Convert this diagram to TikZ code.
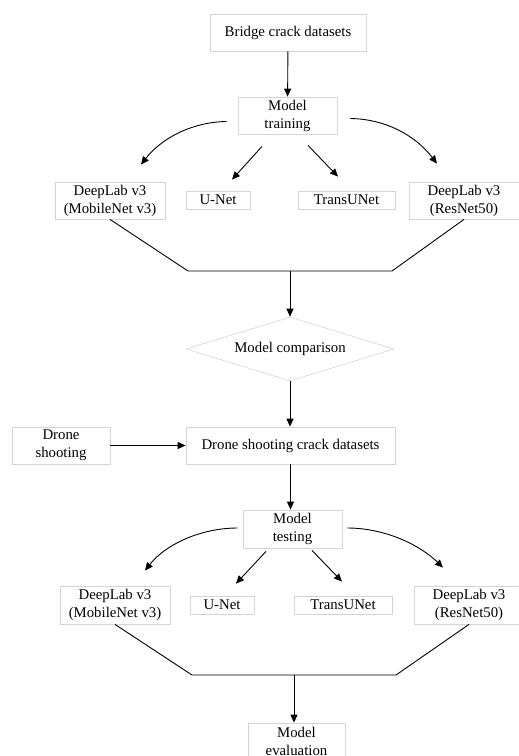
\documentclass[tikz,border=0pt]{standalone}
\usepackage{fontspec}
\setmainfont{Liberation Serif}
\usepackage{tikz}
\usetikzlibrary{shapes,arrows,positioning,calc,arrows.meta}
\definecolor{boxgray}{HTML}{D4D4D4}

\begin{document}
\begin{tikzpicture}[x=1pt, y=-1pt,
    font=\fontsize{14.8}{18}\selectfont,
    box/.style={draw=boxgray, line width=0.8pt, align=center, inner sep=0pt, minimum height=37pt},
    thinbox/.style={box, minimum height=18pt},
    decision/.style={diamond, draw=boxgray, line width=0.6pt, inner sep=0pt, aspect=3.25,
        minimum width=208pt, minimum height=64pt},
    arr/.style={line width=0.9pt, -{Triangle[length=8pt,width=7pt]}},
    merge/.style={line width=0.9pt}]
    \useasboundingbox (0,0) rectangle (519,756);
    \clip (0,0) rectangle (519,756);

    % Training part
    \node[box, minimum width=156pt] (data) at (288,32.5) {Bridge crack datasets};
    \node[box, minimum width=99pt] (train) at (287.5,115.5) {Model\\training};
    \node[box, minimum width=110pt] (dlA) at (110,200.5) {DeepLab v3\\(MobileNet v3)};
    \node[thinbox, minimum width=64pt] (unetA) at (218,200) {U-Net};
    \node[thinbox, minimum width=97pt] (transA) at (346.5,200) {TransUNet};
    \node[box, minimum width=110pt] (dlB) at (464,200.5) {DeepLab v3\\(ResNet50)};

    \draw[arr] (data) -- (train);
    \draw[arr] ([shift={(-11,6)}]train.west) .. controls (190,122) and (160,140) .. ([shift={(31,-17)}]dlA.north);
    \draw[arr] ([shift={(13,3)}]train.east) .. controls (385,119) and (415,135) .. ([shift={(-27,-18)}]dlB.north);
    \draw[arr] ([shift={(-25.5,12)}]train.south) -- ([shift={(14,-11)}]unetA.north);
    \draw[arr] ([shift={(20.5,11)}]train.south) -- ([shift={(-8.5,-14)}]transA.north);

    \coordinate (joinA) at (290,271);
    \draw[merge] (dlA.south) -- (188,271) -- (392,271) -- (dlB.south);

    % Comparison
    \node[decision] (cmp) at (290,349) {Model comparison};
    \draw[arr] (joinA) -- (cmp.north);

    % Testing part
    \node[box, minimum width=209pt] (dsc) at (290.5,445.5) {Drone shooting crack datasets};
    \node[box, minimum width=98pt] (drone) at (61,445.5) {Drone\\shooting};
    \node[box, minimum width=99pt, minimum height=38pt] (test) at (292.5,529) {Model\\testing};
    \node[box, minimum width=110pt, minimum height=38pt] (dlC) at (115,605) {DeepLab v3\\(MobileNet v3)};
    \node[thinbox, minimum width=64pt] (unetB) at (222,605) {U-Net};
    \node[thinbox, minimum width=98pt] (transB) at (343,605) {TransUNet};
    \node[box, minimum width=110pt, minimum height=38pt] (dlD) at (469,605) {DeepLab v3\\(ResNet50)};
    \node[box, minimum width=97pt] (eval) at (296.5,741.5) {Model\\evaluation};

    \draw[arr] (cmp.south) -- (cmp.south |- dsc.north);
    \draw[arr] (drone) -- (dsc);
    \draw[arr] (dsc.south) -- (dsc.south |- test.north);
    \draw[arr] ([shift={(-5,-1)}]test.west) .. controls (200,528) and (165,545) .. ([shift={(30,-15)}]dlC.north);
    \draw[arr] ([shift={(5,-1)}]test.east) .. controls (385,528) and (420,545) .. ([shift={(-26,-18)}]dlD.north);
    \draw[arr] ([shift={(-26.5,3)}]test.south) -- ([shift={(14,-12)}]unetB.north);
    \draw[arr] ([shift={(19.5,2)}]test.south) -- ([shift={(-1,-14)}]transB.north);

    \coordinate (joinB) at (294,675);
    \draw[merge] (dlC.south) -- (192,675) -- (396,675) -- (dlD.south);
    \draw[arr] (joinB) -- (joinB |- eval.north);
\end{tikzpicture}
\end{document}
